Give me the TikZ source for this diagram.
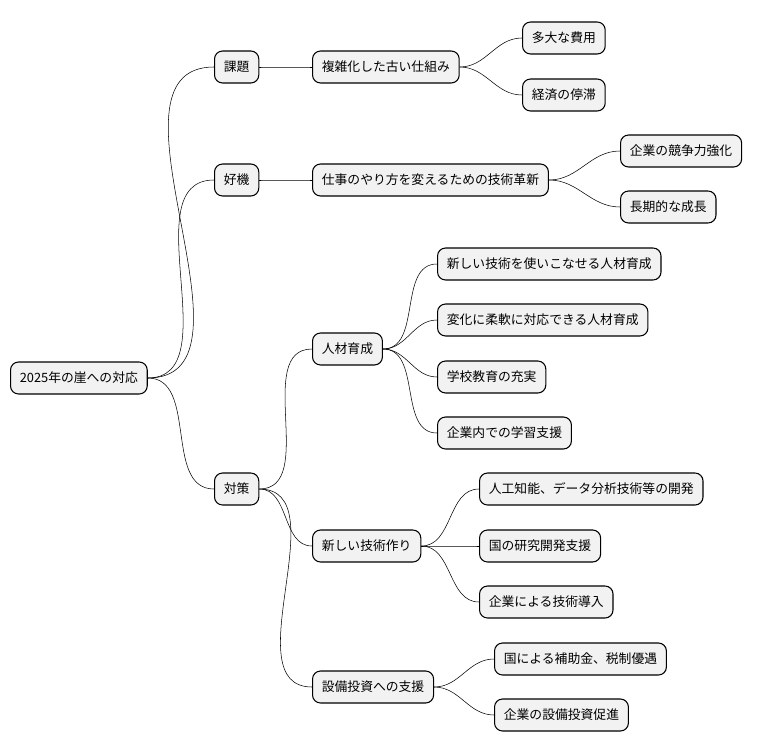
\documentclass[tikz,border=0pt]{standalone}
\usepackage{fontspec}
\newfontfamily\cjk{Noto Sans CJK JP}
\usetikzlibrary{positioning}

\begin{document}
\begin{tikzpicture}[x=0.75pt, y=-0.75pt, font=\cjk\fontsize{9.6}{11}\selectfont]
	\tikzset{topic/.style={draw, thick, rounded corners=6pt, fill=black!5, minimum height=24pt, inner xsep=7pt, anchor=west},
		link/.style={thin, out=0, in=180}}
	\useasboundingbox (0,0) rectangle (762,752);

	% root and first level
	\node[topic] (root) at (10,378) {2025年の崖への対応};
	\node[topic] (issue) at (214,67) {課題};
	\node[topic] (chance) at (214,180) {好機};
	\node[topic] (plan) at (214,489) {対策};

	% issue
	\node[topic] (old) at (312,67) {複雑化した古い仕組み};
	\node[topic] (cost) at (522,38) {多大な費用};
	\node[topic] (stall) at (522,95) {経済の停滞};

	% chance
	\node[topic] (innov) at (312,180) {仕事のやり方を変えるための技術革新};
	\node[topic] (compete) at (620,151) {企業の競争力強化};
	\node[topic] (grow) at (620,207) {長期的な成長};

	% plan
	\node[topic] (people) at (312,349) {人材育成};
	\node[topic] (p1) at (437,264) {新しい技術を使いこなせる人材育成};
	\node[topic] (p2) at (437,320) {変化に柔軟に対応できる人材育成};
	\node[topic] (p3) at (437,377) {学校教育の充実};
	\node[topic] (p4) at (437,433) {企業内での学習支援};

	\node[topic] (tech) at (312,546) {新しい技術作り};
	\node[topic] (t1) at (479,489) {人工知能、データ分析技術等の開発};
	\node[topic] (t2) at (479,546) {国の研究開発支援};
	\node[topic] (t3) at (479,602) {企業による技術導入};

	\node[topic] (invest) at (312,687) {設備投資への支援};
	\node[topic] (i1) at (494,659) {国による補助金、税制優遇};
	\node[topic] (i2) at (494,715) {企業の設備投資促進};

	\foreach \a/\b in {root/issue, root/chance, root/plan,
		issue/old, old/cost, old/stall,
		chance/innov, innov/compete, innov/grow,
		plan/people, plan/tech, plan/invest,
		people/p1, people/p2, people/p3, people/p4,
		tech/t1, tech/t2, tech/t3,
		invest/i1, invest/i2}
		\draw[link] (\a.east) to (\b.west);
\end{tikzpicture}
\end{document}
